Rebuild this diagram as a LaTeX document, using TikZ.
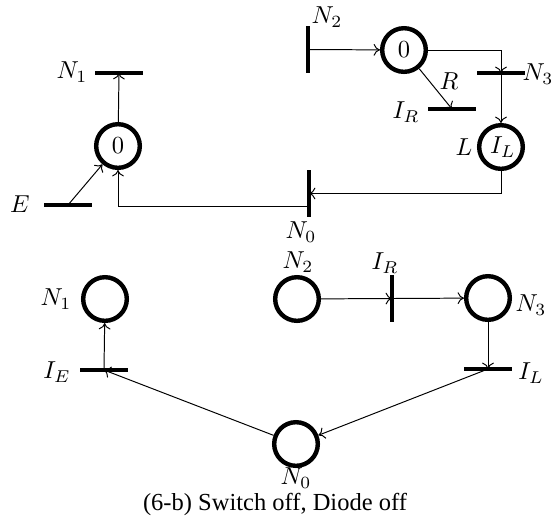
\documentclass[tikz,border=0pt]{standalone}
\usepackage{fontspec}
\setmainfont{Liberation Serif}
\usetikzlibrary{arrows.meta,calc}
\begin{document}
\begin{tikzpicture}[x=0.408pt,y=-0.408pt,
  place/.style={circle,draw,line width=1.8pt,minimum size=17.8pt,inner sep=0pt},
  hbar/.style={fill,minimum width=19.2pt,minimum height=2pt,inner sep=0pt,outer sep=0pt},
  vbar/.style={fill,minimum width=2pt,minimum height=19.2pt,inner sep=0pt,outer sep=0pt},
  arc/.style={-{To[length=2.6pt,width=4.8pt]},line width=0.4pt},
  lbl/.style={inner sep=0pt}]
\useasboundingbox (0,0) rectangle (555,521);

% ---------- top net ----------
\node[hbar] (tN1) at (119,73) {};
\node[lbl] (lN1) at (72,72) {$N_1$};
\node[place] (p0a) at (118,146) {$0$};
\node[hbar] (tE) at (68,205) {};
\node[lbl] (lE) at (20,204) {$E$};
\node[vbar] (tN0) at (309,193.5) {};
\node[lbl] (lN0) at (301,232) {$N_0$};
\node[vbar] (tN2) at (308,49.5) {};
\node[lbl] (lN2) at (327,17) {$N_2$};
\node[place] (p0b) at (404,50) {$0$};
\node[hbar] (tN3) at (501,73) {};
\node[lbl] (lN3) at (538,74) {$N_3$};
\node[hbar] (tIR) at (452,109) {};
\node[lbl] (lIR) at (406,112) {$I_R$};
\node[lbl] (lR) at (449,81) {$R$};
\node[place] (pIL) at (501,147) {\hspace{1.5pt}$I_L$};
\node[lbl] (lL) at (464,147) {$L$};

\draw[arc] (tE.center) -- (p0a);
\draw[arc] (p0a) -- (tN1.center);
\draw[arc] (tN2.center) -- (p0b);
\draw[arc] (p0b.east) -| (tN3.center);
\draw[arc] (tN3.center) -- (pIL);
\draw[arc] (p0b) -- (tIR.center);
\draw[arc] (pIL.south) |- (tN0.center);
\draw[arc] ($(tN0.center)+(0,12.5)$) -| (p0a.south);

% ---------- bottom net ----------
\node[place] (pN1) at (105,299) {};
\node[lbl] (bN1) at (56,299) {$N_1$};
\node[hbar] (tIE) at (104,370) {};
\node[lbl] (bIE) at (57,372) {$I_E$};
\node[place] (pN2) at (297,299) {};
\node[lbl] (bN2) at (298,262) {$N_2$};
\node[vbar] (tIR2) at (392,298.5) {};
\node[lbl] (bIR) at (385,263) {$I_R$};
\node[place] (pN3) at (488,298) {};
\node[lbl] (bN3) at (531,305) {$N_3$};
\node[hbar] (tIL) at (488,369) {};
\node[lbl] (bIL) at (531,373) {$I_L$};
\node[place] (pN0) at (296,444) {};
\node[lbl] (bN0) at (296,478) {$N_0$};

\draw[arc] (tIE.center) -- (pN1);
\draw[arc] (pN2) -- (tIR2.center);
\draw[arc] (tIR2.center) -- (pN3);
\draw[arc] (pN3) -- (tIL.center);
\draw[arc] (tIL.center) -- (pN0);
\draw[arc] (pN0) -- (tIE.center);

\node[lbl] (cap) at (275,504) {(6-b) Switch off, Diode off};
\end{tikzpicture}
\end{document}
